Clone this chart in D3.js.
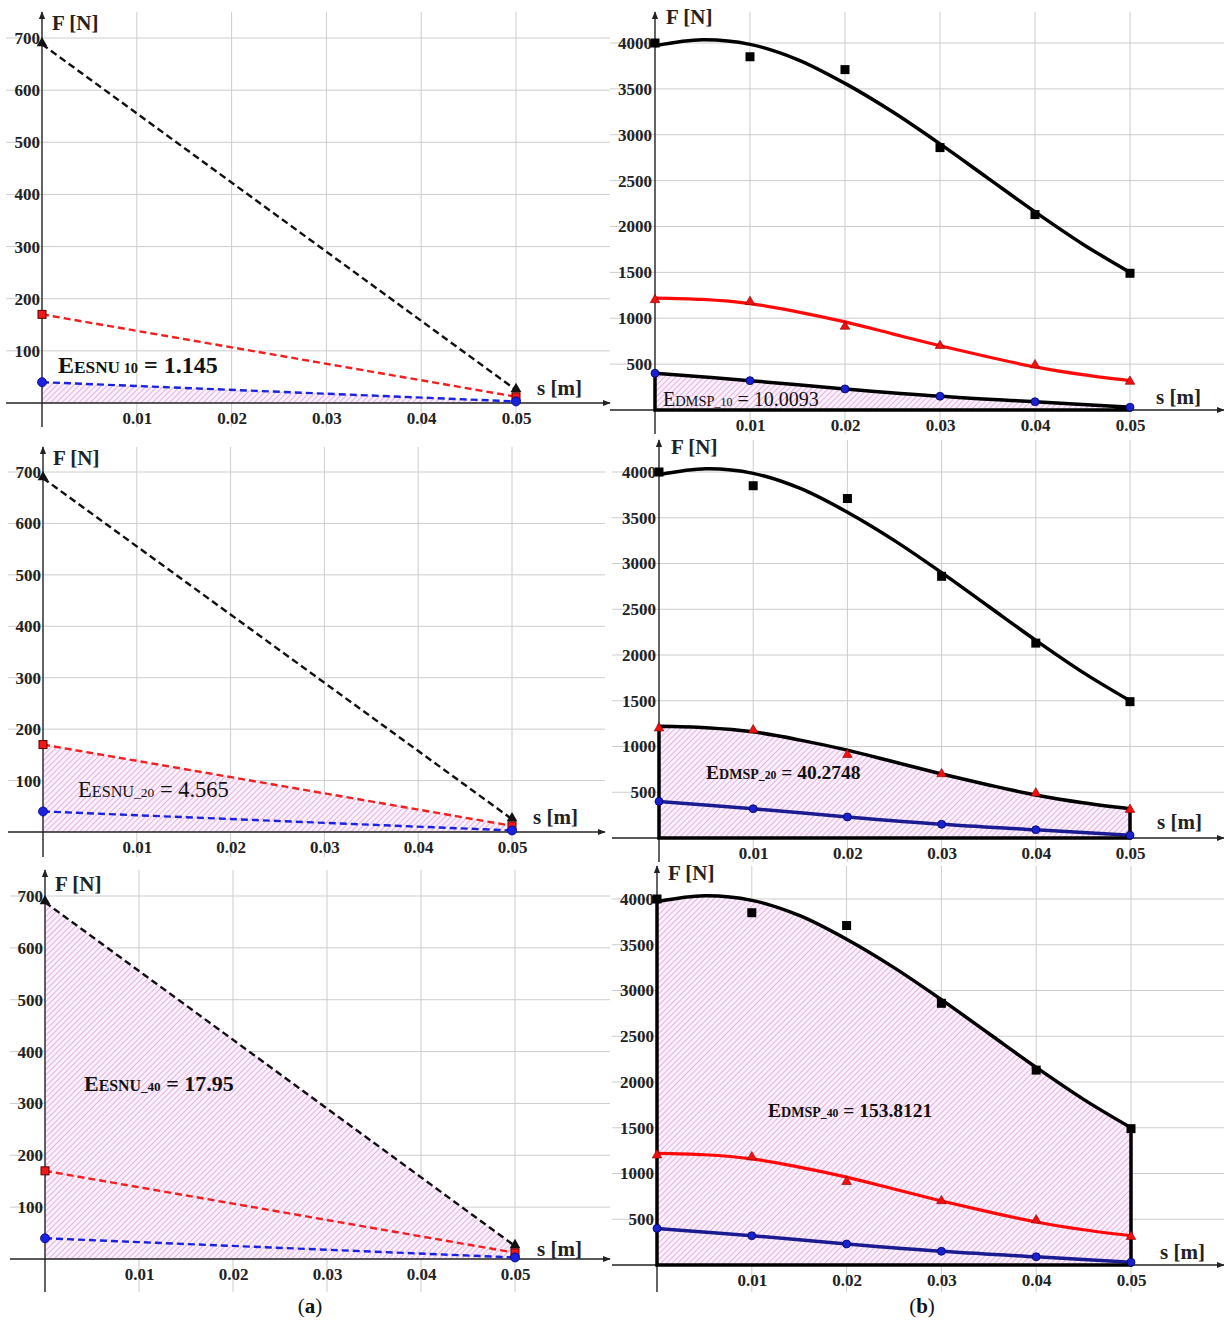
<!DOCTYPE html>
<html><head><meta charset="utf-8">
<script src="https://cdn.jsdelivr.net/npm/d3@7"></script>
<style>body{margin:0;background:#fff}</style>
</head><body>
<svg id="c" width="1224" height="1322" xmlns="http://www.w3.org/2000/svg"></svg>
<script>
// ---------- DATA ----------
const sA = [0, 0.05];
const blackA = [688, 25];
const redA = [170, 12];
const blueA = [40, 3];
const yTicksA = [100, 200, 300, 400, 500, 600, 700];

const xTicks = [0.01, 0.02, 0.03, 0.04, 0.05];
const xTickLabels = ["0.01", "0.02", "0.03", "0.04", "0.05"];

const sB = [0, 0.01, 0.02, 0.03, 0.04, 0.05];
const blackB = [4000, 3850, 3710, 2860, 2130, 1490];
const redB = [1200, 1180, 910, 700, 490, 310];
const blueB = [400, 320, 230, 150, 90, 30];
const sFit = [0, 0.005, 0.01, 0.015, 0.02, 0.025, 0.03, 0.035, 0.04, 0.045, 0.05];
const blackFit = [3970, 4035, 3985, 3820, 3560, 3250, 2900, 2530, 2160, 1810, 1500];
const redFit = [1220, 1205, 1160, 1070, 960, 830, 700, 580, 470, 385, 320];
const yTicksB = [500, 1000, 1500, 2000, 2500, 3000, 3500, 4000];

const energyLabelsA = [
  {big: "E", sc: "ESNU", sub: " 10", val: " = 1.145"},
  {big: "E", sc: "ESNU", sub: "_20", val: " = 4.565"},
  {big: "E", sc: "ESNU", sub: "_40", val: " = 17.95"}
];
const energyLabelsB = [
  {big: "E", sc: "DMSP", sub: "_10", val: " = 10.0093"},
  {big: "E", sc: "DMSP", sub: "_20", val: " = 40.2748"},
  {big: "E", sc: "DMSP", sub: "_40", val: " = 153.8121"}
];
const panelCaptions = ["a", "b"];

// ---------- LAYOUT ----------
const svg = d3.select("#c");
const FONT = "'Liberation Serif', 'DejaVu Serif', serif";

const defs = svg.append("defs");
const pat = defs.append("pattern").attr("id", "hatch").attr("patternUnits", "userSpaceOnUse")
  .attr("width", 4).attr("height", 4).attr("patternTransform", "rotate(45)");
pat.append("rect").attr("width", 4).attr("height", 4).attr("fill", "#fcf0fc");
pat.append("line").attr("x1", 0.5).attr("y1", 0).attr("x2", 0.5).attr("y2", 4)
  .attr("stroke", "#e2b4e2").attr("stroke-width", 1);

defs.append("marker").attr("id", "arr").attr("viewBox", "0 0 10 10").attr("refX", 9).attr("refY", 5)
  .attr("markerWidth", 8).attr("markerHeight", 8).attr("markerUnits", "userSpaceOnUse").attr("orient", "auto")
  .append("path").attr("d", "M0,1 L10,5 L0,9 Z").attr("fill", "#222");

const panelsA = [
  {x0: 42, x1: 516, y0: 403, yT: 38, gl: 6, gr: 610, gt: 12, gb: 427, lab: [58, 373, 24, true], F: [52, 30], S: [537, 395], fill: 0},
  {x0: 43, x1: 512, y0: 832, yT: 472, gl: 8, gr: 605, gt: 447, gb: 857, lab: [78, 797, 22.5, false], F: [53, 465], S: [533, 824], fill: 1},
  {x0: 45, x1: 515, y0: 1259, yT: 896, gl: 10, gr: 610, gt: 870, gb: 1292, lab: [84, 1091, 22, true], F: [55, 891], S: [537, 1256], fill: 2}
];
const panelsB = [
  {x0: 655, x1: 1130, y0: 410, yT: 43, gl: 610, gr: 1224, gt: 12, gb: 434, lab: [663, 406, 20, false], F: [666, 24], S: [1156, 404], fill: 0},
  {x0: 659, x1: 1130, y0: 838, yT: 472, gl: 612, gr: 1224, gt: 440, gb: 862, lab: [706, 779, 19.5, true], F: [671, 454], S: [1157, 829], fill: 1},
  {x0: 657, x1: 1131, y0: 1265, yT: 899, gl: 612, gr: 1224, gt: 866, gb: 1292, lab: [768, 1117, 19.5, true], F: [668, 880], S: [1160, 1259], fill: 2}
];

function frame(g, cfg, x, y, yTicks) {
  g.append("g").selectAll("line").data(yTicks).join("line")
    .attr("x1", cfg.gl).attr("x2", cfg.gr).attr("y1", d => y(d)).attr("y2", d => y(d))
    .attr("stroke", "#cdcdcd").attr("stroke-width", 1);
  g.append("g").selectAll("line").data(xTicks).join("line")
    .attr("x1", d => x(d)).attr("x2", d => x(d)).attr("y1", cfg.gt).attr("y2", cfg.gb)
    .attr("stroke", "#cdcdcd").attr("stroke-width", 1);
}

function axes(g, cfg, x, y, yTicks, yPad) {
  g.append("line").attr("x1", cfg.gl).attr("x2", cfg.gr).attr("y1", cfg.y0).attr("y2", cfg.y0)
    .attr("stroke", "#222").attr("stroke-width", 1.4).attr("marker-end", "url(#arr)");
  g.append("line").attr("x1", cfg.x0).attr("x2", cfg.x0).attr("y1", cfg.gb).attr("y2", cfg.gt)
    .attr("stroke", "#222").attr("stroke-width", 1.4).attr("marker-end", "url(#arr)");
  const ax = g.append("g").attr("transform", `translate(0,${cfg.y0})`)
    .call(d3.axisBottom(x).tickValues(xTicks).tickFormat((d, i) => xTickLabels[i]).tickSize(0).tickPadding(9));
  ax.select(".domain").remove();
  const ay = g.append("g").attr("transform", `translate(${cfg.x0},0)`)
    .call(d3.axisLeft(y).tickValues(yTicks).tickFormat(d3.format("d")).tickSize(0).tickPadding(yPad));
  ay.select(".domain").remove();
  g.selectAll(".tick text").attr("font-family", FONT).attr("font-size", 17).attr("font-weight", "bold").attr("fill", "#222");
  g.append("text").attr("x", cfg.F[0]).attr("y", cfg.F[1]).attr("font-family", FONT).attr("font-size", 21)
    .attr("font-weight", "bold").attr("fill", "#222").text("F [N]");
  g.append("text").attr("x", cfg.S[0]).attr("y", cfg.S[1]).attr("font-family", FONT).attr("font-size", 21)
    .attr("font-weight", "bold").attr("fill", "#222").text("s [m]");
}

function energyLabel(g, cfg, L) {
  const [lx, ly, fs, bold] = cfg.lab;
  const t = g.append("text").attr("x", lx).attr("y", ly).attr("font-family", FONT)
    .attr("font-weight", bold ? "bold" : "normal").attr("fill", "#111");
  t.append("tspan").attr("font-size", fs).text(L.big);
  t.append("tspan").attr("font-size", fs * 0.72).text(L.sc);
  t.append("tspan").attr("font-size", fs * 0.6).text(L.sub);
  t.append("tspan").attr("font-size", fs).text(L.val);
}

// ---------- PANELS (a) ----------
const seriesA = [blackA, redA, blueA];
const colorsA = ["#111", "#f02020", "#1a22e0"];
panelsA.forEach((cfg, pi) => {
  const g = svg.append("g");
  const x = d3.scaleLinear().domain([0, 0.05]).range([cfg.x0, cfg.x1]);
  const y = d3.scaleLinear().domain([0, 700]).range([cfg.y0, cfg.yT]);
  frame(g, cfg, x, y, yTicksA);
  const fillSeries = [blueA, redA, blackA][cfg.fill];
  const area = d3.area().x((d, i) => x(sA[i])).y0(y(0)).y1(d => y(d));
  g.append("path").attr("d", area(fillSeries)).attr("fill", "url(#hatch)");
  axes(g, cfg, x, y, yTicksA, 2);
  const line = d3.line().x((d, i) => x(sA[i])).y(d => y(d));
  seriesA.forEach((s, k) => {
    g.append("path").attr("d", line(s)).attr("fill", "none").attr("stroke", colorsA[k])
      .attr("stroke-width", 2.4).attr("stroke-dasharray", "7,4");
  });
  blackA.forEach((v, i) => g.append("path").attr("d", d3.symbol(d3.symbolTriangle, 50)())
    .attr("transform", `translate(${x(sA[i])},${y(v) - 1})`).attr("fill", "#111"));
  redA.forEach((v, i) => g.append("rect").attr("x", x(sA[i]) - 4).attr("y", y(v) - 4).attr("width", 8).attr("height", 8)
    .attr("fill", "#f01818").attr("stroke", "#5a0000").attr("stroke-width", 1));
  blueA.forEach((v, i) => g.append("circle").attr("cx", x(sA[i])).attr("cy", y(v)).attr("r", 4.5)
    .attr("fill", "#1a22e0").attr("stroke", "#000080").attr("stroke-width", 0.8));
  energyLabel(g, cfg, energyLabelsA[pi]);
});

// ---------- PANELS (b) ----------
panelsB.forEach((cfg, pi) => {
  const g = svg.append("g");
  const x = d3.scaleLinear().domain([0, 0.05]).range([cfg.x0, cfg.x1]);
  const y = d3.scaleLinear().domain([0, 4000]).range([cfg.y0, cfg.yT]);
  frame(g, cfg, x, y, yTicksB);
  const fitLine = (xs, ys) => d3.line().curve(d3.curveCatmullRom).x((d, i) => x(xs[i])).y(d => y(d))(ys);
  const fitArea = (xs, ys) => d3.area().curve(d3.curveCatmullRom).x((d, i) => x(xs[i])).y0(y(0)).y1(d => y(d))(ys);
  const bounds = [[sB, blueB], [sFit, redFit], [sFit, blackFit]];
  const [fx, fy] = bounds[cfg.fill];
  g.append("path").attr("d", fitArea(fx, fy)).attr("fill", "url(#hatch)");
  axes(g, cfg, x, y, yTicksB, 3);
  if (cfg.fill !== 2) g.append("path").attr("d", fitLine(sFit, blackFit)).attr("fill", "none").attr("stroke", "#000").attr("stroke-width", 3.5);
  if (cfg.fill !== 1) g.append("path").attr("d", fitLine(sFit, redFit)).attr("fill", "none").attr("stroke", "#ff0a0a").attr("stroke-width", 3.2);
  if (cfg.fill !== 0) g.append("path").attr("d", fitLine(sB, blueB)).attr("fill", "none").attr("stroke", "#1c1c92").attr("stroke-width", 3.5);
  g.append("path").attr("d", fitArea(fx, fy) + "Z").attr("fill", "none").attr("stroke", "#000")
    .attr("stroke-width", 3.5).attr("stroke-linejoin", "miter");
  blackB.forEach((v, i) => g.append("rect").attr("x", x(sB[i]) - 4.5).attr("y", y(v) - 4.5).attr("width", 9).attr("height", 9).attr("fill", "#000"));
  redB.forEach((v, i) => g.append("path").attr("d", d3.symbol(d3.symbolTriangle, 40)())
    .attr("transform", `translate(${x(sB[i])},${y(v)})`).attr("fill", "#f01010").attr("stroke", "#800").attr("stroke-width", 0.6));
  blueB.forEach((v, i) => g.append("circle").attr("cx", x(sB[i])).attr("cy", y(v)).attr("r", 4)
    .attr("fill", "#1a22d0").attr("stroke", "#000060").attr("stroke-width", 0.8));
  energyLabel(g, cfg, energyLabelsB[pi]);
});

// captions
[[310, panelCaptions[0]], [922, panelCaptions[1]]].forEach(([cx, c]) => {
  const t = svg.append("text").attr("x", cx).attr("y", 1313).attr("text-anchor", "middle")
    .attr("font-family", FONT).attr("font-size", 21).attr("fill", "#111");
  t.append("tspan").text("(");
  t.append("tspan").attr("font-weight", "bold").text(c);
  t.append("tspan").text(")");
});
</script>
</body></html>
